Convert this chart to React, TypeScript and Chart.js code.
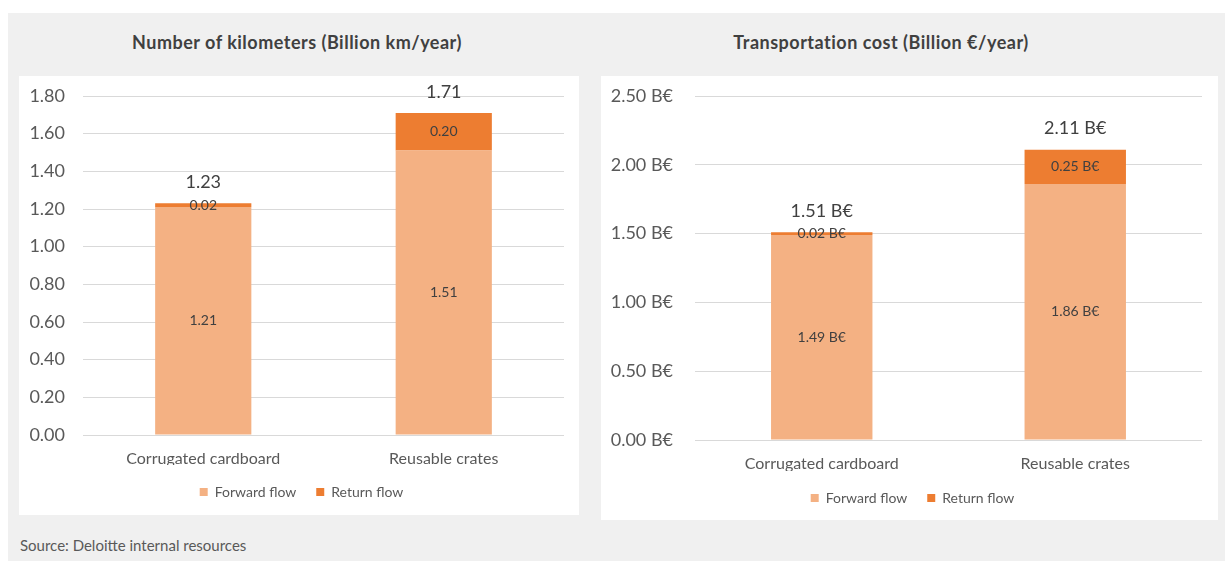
import React, { useEffect, useRef } from "react";
import { Chart, registerables } from "chart.js";

Chart.register(...registerables);
Chart.defaults.font.family = "Lato";

// ---- Data ----
const categories = ["Corrugated cardboard", "Reusable crates"];
const seriesNames = ["Forward flow", "Return flow"];

const kmForward = [1.21, 1.51];
const kmReturn = [0.02, 0.2];
const kmTicks = [0, 0.2, 0.4, 0.6, 0.8, 1.0, 1.2, 1.4, 1.6, 1.8];

const costForward = [1.49, 1.86];
const costReturn = [0.02, 0.25];
const costTicks = [0, 0.5, 1.0, 1.5, 2.0, 2.5];

const leftTitle = "Number of kilometers (Billion km/year)";
const rightTitle = "Transportation cost (Billion €/year)";
const sourceText = "Source: Deloitte internal resources";

const FORWARD_COLOR = "#F4B183";
const RETURN_COLOR = "#ED7D31";
const TEXT = "#595959";
const DARK = "#404040";

type PanelProps = {
  forward: number[];
  ret: number[];
  ticks: number[];
  suffix: string;
  w: number;
  h: number;
  padR: number;
  padB: number;
  yWidth: number;
  xHeight: number;
  xPad: number;
  yPad: number;
  legendShift: number;
};

function makeLabelPlugin(suffix: string) {
  return {
    id: "barLabels",
    afterDatasetsDraw(chart: any) {
      const ctx = chart.ctx;
      ctx.save();
      ctx.textAlign = "center";
      ctx.textBaseline = "middle";
      const n = chart.data.datasets.length;
      const totals: number[] = [];
      chart.data.datasets.forEach((ds: any, di: number) => {
        const meta = chart.getDatasetMeta(di);
        meta.data.forEach((bar: any, i: number) => {
          const v = ds.data[i] as number;
          totals[i] = (totals[i] || 0) + v;
          const p = bar.getProps(["x", "y", "base"], true);
          ctx.font = "14px Lato";
          ctx.fillStyle = DARK;
          ctx.fillText(v.toFixed(2) + suffix, p.x, (p.y + p.base) / 2);
        });
      });
      const last = chart.getDatasetMeta(n - 1);
      last.data.forEach((bar: any, i: number) => {
        const p = bar.getProps(["x", "y"], true);
        ctx.font = "18px Lato";
        ctx.fillStyle = DARK;
        ctx.fillText(totals[i].toFixed(2) + suffix, p.x, p.y - 21);
      });
      ctx.restore();
    },
  };
}

function makeLegendShiftPlugin(shift: number) {
  return {
    id: "legendShift",
    afterLayout(chart: any) {
      const lg = chart.legend;
      if (lg) {
        lg.left += shift;
        lg.right += shift;
      }
    },
  };
}

function BarPanel(props: PanelProps) {
  const ref = useRef<HTMLCanvasElement>(null);
  useEffect(() => {
    const { forward, ret, ticks, suffix } = props;
    const chart = new Chart(ref.current as HTMLCanvasElement, {
      type: "bar",
      data: {
        labels: categories,
        datasets: [
          {
            label: seriesNames[0],
            data: forward,
            backgroundColor: FORWARD_COLOR,
            borderWidth: 0,
            categoryPercentage: 0.8,
            barPercentage: 0.5,
          },
          {
            label: seriesNames[1],
            data: ret,
            backgroundColor: RETURN_COLOR,
            borderWidth: 0,
            categoryPercentage: 0.8,
            barPercentage: 0.5,
          },
        ],
      },
      options: {
        animation: false,
        responsive: false,
        maintainAspectRatio: false,
        layout: {
          padding: { left: 0, right: props.padR, top: 20, bottom: props.padB },
        },
        plugins: {
          legend: {
            position: "bottom",
            labels: {
              boxWidth: 8,
              boxHeight: 8,
              padding: 20,
              color: TEXT,
              font: { size: 14, family: "Lato" },
            },
          },
          tooltip: { enabled: false },
        },
        scales: {
          x: {
            stacked: true,
            grid: { display: false, drawTicks: false },
            border: { display: false },
            ticks: { color: TEXT, font: { size: 16, family: "Lato" }, padding: props.xPad },
            afterFit: (s: any) => {
              s.height = props.xHeight;
            },
          },
          y: {
            stacked: true,
            min: ticks[0],
            max: ticks[ticks.length - 1],
            afterBuildTicks: (s: any) => {
              s.ticks = ticks.map((v) => ({ value: v }));
            },
            ticks: {
              color: TEXT,
              font: { size: 18, family: "Lato" },
              padding: props.yPad,
              callback: (v: any) => Number(v).toFixed(2) + suffix,
            },
            grid: { color: "#D9D9D9", lineWidth: 1, drawTicks: false },
            border: { display: false },
            afterFit: (s: any) => {
              s.width = props.yWidth;
              s.paddingTop = 0;
              s.paddingBottom = 0;
            },
          },
        },
      },
      plugins: [makeLabelPlugin(suffix), makeLegendShiftPlugin(props.legendShift)],
    } as any);
    return () => chart.destroy();
  }, []);
  return <canvas ref={ref} width={props.w} height={props.h} style={{ display: "block" }} />;
}

export default function App() {
  const titleStyle: React.CSSProperties = {
    position: "absolute",
    top: 19,
    width: 500,
    textAlign: "center",
    fontFamily: "Lato",
    fontWeight: 700,
    fontSize: 18,
    lineHeight: "20px",
    color: DARK,
    letterSpacing: 0.5,
  };
  return (
    <div
      style={{
        position: "absolute",
        left: 8,
        top: 13,
        width: 1217,
        height: 548,
        background: "#F0F0F0",
      }}
    >
      <div style={{ ...titleStyle, left: 289 - 250 }}>{leftTitle}</div>
      <div style={{ ...titleStyle, left: 873 - 250 }}>{rightTitle}</div>
      <div style={{ position: "absolute", left: 11, top: 63, width: 560, height: 439, background: "#fff" }}>
        <BarPanel
          forward={kmForward}
          ret={kmReturn}
          ticks={kmTicks}
          suffix=""
          w={560}
          h={439}
          padR={15}
          padB={6}
          yWidth={64}
          xHeight={30}
          xPad={14}
          yPad={18}
          legendShift={10}
        />
      </div>
      <div style={{ position: "absolute", left: 593, top: 63, width: 617, height: 444, background: "#fff" }}>
        <BarPanel
          forward={costForward}
          ret={costReturn}
          ticks={costTicks}
          suffix=" B€"
          w={617}
          h={444}
          padR={16}
          padB={5}
          yWidth={94}
          xHeight={31}
          xPad={14}
          yPad={22}
          legendShift={11}
        />
      </div>
      <div
        style={{
          position: "absolute",
          left: 12,
          top: 524,
          fontFamily: "Lato",
          fontSize: 15,
          lineHeight: "16px",
          color: TEXT,
        }}
      >
        {sourceText}
      </div>
    </div>
  );
}
